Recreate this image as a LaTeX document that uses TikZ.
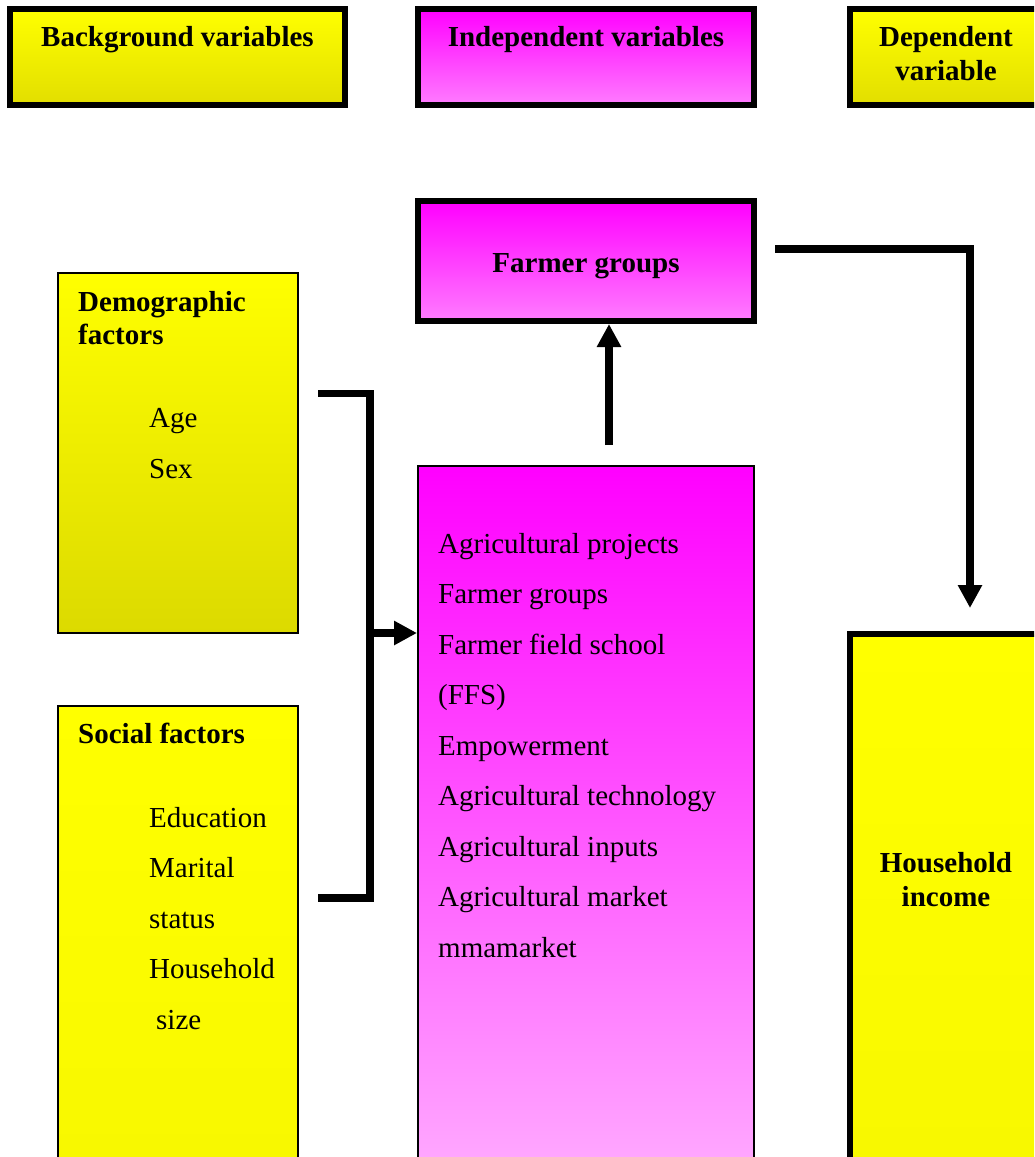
\documentclass[tikz,border=0pt]{standalone}
\usepackage{fontspec}
\setmainfont{Liberation Serif}
\usetikzlibrary{arrows.meta}
\definecolor{yelA}{HTML}{FFFF00}
\definecolor{yelB}{HTML}{E2DE00}
\definecolor{yelC}{HTML}{DCDA00}
\definecolor{yelD}{HTML}{F8F800}
\definecolor{magA}{HTML}{FF00FF}
\definecolor{magB}{HTML}{FF7CFF}
\definecolor{magC}{HTML}{FFA8FF}
\begin{document}
\begin{tikzpicture}[x=1pt,y=-1pt,
  every node/.style={inner sep=0pt},
  thickbox/.style={draw=black, line width=6pt, shading angle=0},
  thinbox/.style={draw=black, line width=2pt},
  lbl/.style={font=\fontsize{29}{34}\selectfont},
  blbl/.style={font=\fontsize{29}{34}\selectfont\bfseries},
  conn/.style={draw=black, line width=7.5pt},
  tip/.style={-{Triangle[length=23pt,width=23pt]}}
]
\path[use as bounding box, clip] (0,0) rectangle (1034,1157);
\fill[white] (0,0) rectangle (1034,1157);

% header boxes
\node[thickbox, top color=yelA, bottom color=yelB, minimum width=335pt, minimum height=96pt] (bg) at (177.5,57) {};
\node[thickbox, top color=magA, bottom color=magB, minimum width=336pt, minimum height=96pt] (ind) at (586,57) {};
\node[thickbox, top color=yelA, bottom color=yelB, minimum width=200pt, minimum height=96pt] (dep) at (950,57) {};
\node[blbl, anchor=base] (bgt) at (177.5,46) {Background variables};
\node[blbl, anchor=base] (indt) at (586,46) {Independent variables};
\node[blbl, anchor=base] (dept1) at (946,46) {Dependent};
\node[blbl, anchor=base] (dept2) at (946,80) {variable};

% farmer groups
\node[thickbox, top color=magA, bottom color=magB, minimum width=336pt, minimum height=120pt] (fg) at (586,261) {};
\node[blbl, anchor=base] (fgt) at (586,272) {Farmer groups};

% demographic
\node[thinbox, top color=yelA, bottom color=yelC, minimum width=240pt, minimum height=360pt] (demo) at (178,453) {};
\node[blbl, anchor=base west] (demot1) at (78,311) {Demographic};
\node[blbl, anchor=base west] (demot2) at (78,344) {factors};
\node[lbl, anchor=base west] (age) at (149,427) {Age};
\node[lbl, anchor=base west] (sex) at (149,478) {Sex};

% social
\node[thinbox, top color=yelA, bottom color=yelD, minimum width=240pt, minimum height=460pt] (soc) at (178,936) {};
\node[blbl, anchor=base west] (soct) at (78,743) {Social factors};
\node[lbl, anchor=base west] (s1) at (149,827) {Education};
\node[lbl, anchor=base west] (s2) at (149,877) {Marital};
\node[lbl, anchor=base west] (s3) at (149,928) {status};
\node[lbl, anchor=base west] (s4) at (149,978) {Household};
\node[lbl, anchor=base west] (s5) at (156,1029) {size};

% central
\node[thinbox, top color=magA, bottom color=magC, minimum width=336pt, minimum height=700pt] (cen) at (586,816) {};
\foreach \t [count=\i] in {{Agricultural projects},{Farmer groups},{Farmer field school},{(FFS)},{Empowerment},{Agricultural technology},{Agricultural inputs},{Agricultural market},{mmamarket}}
  \node[lbl, anchor=base west] (c\i) at (438,{553+(\i-1)*50.5}) {\t};

% household income
\node[thickbox, top color=yelA, bottom color=yelD, minimum width=200pt, minimum height=530pt] (hi) at (950,899) {};
\node[blbl, anchor=base] (hit1) at (946,872) {Household};
\node[blbl, anchor=base] (hit2) at (946,906) {income};

% connectors
\coordinate (bt) at (318,393.5);
\coordinate (bb) at (318,898);
\coordinate (bj) at (370,633);
\draw[conn] (bt) -- (bj |- bt) -- (bj |- bb) -- (bb);
\draw[conn, tip] (bj) -- (cen.west |- bj);

\coordinate (up) at (609,445);
\draw[conn, tip] (up) -- (fg.south -| up);

\coordinate (r0) at (775,249);
\coordinate (r1) at (970,608);
\draw[conn, tip] (r0) -| (r1);
\end{tikzpicture}
\end{document}
